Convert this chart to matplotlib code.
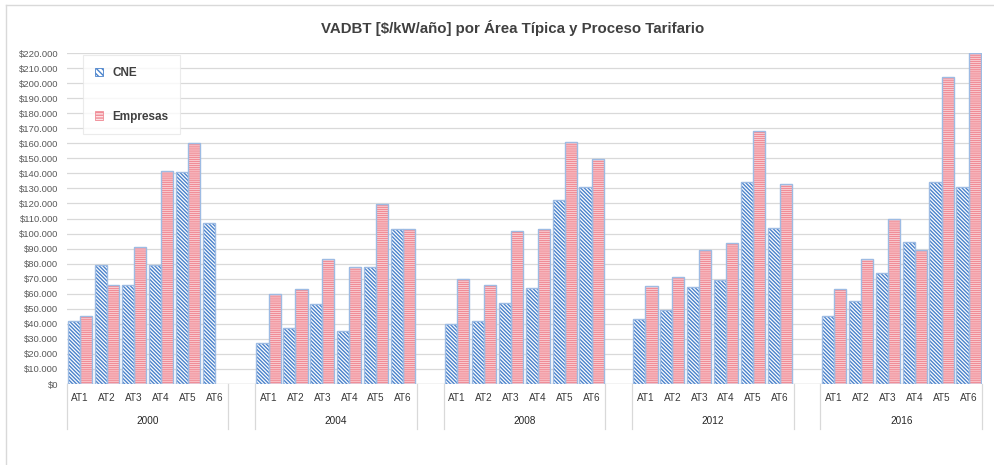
import matplotlib
matplotlib.use("Agg")
import matplotlib.pyplot as plt
import matplotlib.transforms as mtransforms
from matplotlib.patches import Patch
from matplotlib.lines import Line2D
import numpy as np

# ---------------- data ----------------
years = ["2000", "2004", "2008", "2012", "2016"]
areas = ["AT1", "AT2", "AT3", "AT4", "AT5", "AT6"]
cne_2000 = [42, 79, 65.5, 79, 141, 107]
emp_2000 = [45.5, 66, 91, 141.5, 160, 0]
cne_2004 = [27, 37, 53, 35, 78, 103]
emp_2004 = [60, 63, 83, 78, 119.5, 103]
cne_2008 = [40, 42, 54, 64, 122.5, 131]
emp_2008 = [70, 66, 102, 103, 161, 149.5]
cne_2012 = [43, 49, 64.5, 69, 134, 104]
emp_2012 = [65, 71, 89, 94, 168, 133]
cne_2016 = [45, 55, 74, 94.5, 134, 131]
emp_2016 = [63, 83, 110, 89, 204, 220]
yticks = list(range(0, 221, 10))
title = "VADBT [$/kW/año] por Área Típica y Proceso Tarifario"
series_names = ["CNE", "Empresas"]

cne = [cne_2000, cne_2004, cne_2008, cne_2012, cne_2016]
emp = [emp_2000, emp_2004, emp_2008, emp_2012, emp_2016]

# ---------------- style ----------------
plt.rcParams['font.family'] = ['Liberation Sans', 'DejaVu Sans']
plt.rcParams['hatch.linewidth'] = 1.0

W, H = 994, 465
fig = plt.figure(figsize=(W / 100, H / 100), dpi=100)
left_px, right_px, top_px, bot_px = 66.6, 982, 53, 384
ax = fig.add_axes([left_px / W, 1 - bot_px / H, (right_px - left_px) / W, (bot_px - top_px) / H])

blue_hatch = "#4a82cb"
blue_edge = "#9dbbe3"
red_hatch = "#f08d97"
pink_face = "#fde2e5"

slot = 7
w = 0.45
xs_all = []
for gi, yr in enumerate(years):
    x = np.arange(len(areas)) + gi * slot
    xs_all.append(x)
    # CNE
    ax.bar(x - w / 2, cne[gi], width=w, facecolor="white", edgecolor=blue_hatch,
           hatch="\\" * 9, linewidth=0, zorder=2)
    ax.bar(x - w / 2, cne[gi], width=w, fill=False, edgecolor=blue_edge,
           linewidth=1.0, zorder=3)
    # Empresas
    e = np.array(emp[gi], dtype=float)
    ax.bar(x + w / 2, e, width=w, facecolor=pink_face, edgecolor=red_hatch,
           hatch="-" * 8, linewidth=0, zorder=2)
    mask = e > 0
    ax.bar((x + w / 2)[mask], e[mask], width=w, fill=False, edgecolor=blue_edge,
           linewidth=1.0, zorder=3)

ax.set_xlim(-0.5, slot * len(years) - 1.5)
ax.set_ylim(0, 220)
ax.set_yticks(yticks)
ax.set_yticklabels(["$" + (f"{v}.000" if v > 0 else "0") for v in yticks],
                   fontsize=6.8, color="#595959")
ax.tick_params(axis="y", length=0, pad=6)
ax.yaxis.grid(True, color="#d9d9d9", linewidth=0.9, zorder=0)
ax.set_axisbelow(True)
for s in ax.spines.values():
    s.set_visible(False)
ax.axhline(0, color="#d9d9d9", linewidth=1.0, zorder=1)

# category labels
ax.set_xticks([])
trans = mtransforms.blended_transform_factory(ax.transData, ax.transAxes)
h_ax = bot_px - top_px
for gi, yr in enumerate(years):
    for j, a in enumerate(areas):
        ax.text(xs_all[gi][j], -(398 - bot_px) / h_ax, a, transform=trans,
                ha="center", va="center", fontsize=7.2, color="#3a3a3a")
    ax.text(gi * slot + 2.5, -(421 - bot_px) / h_ax, yr, transform=trans,
            ha="center", va="center", fontsize=7.2, color="#262626")
    for xb in (gi * slot - 0.5, gi * slot + 5.5):
        ax.add_line(Line2D([xb, xb], [0, -(429 - bot_px) / h_ax], transform=trans,
                           color="#d9d9d9", linewidth=0.9, clip_on=False))

# legend
handles = [Patch(facecolor="white", edgecolor=blue_hatch, hatch="\\" * 6, linewidth=0.6),
           Patch(facecolor=pink_face, edgecolor=red_hatch, hatch="-" * 6, linewidth=0.6)]
leg = ax.legend(handles, series_names, loc="upper left",
                bbox_to_anchor=((83 - left_px) / (right_px - left_px), (bot_px - 55) / h_ax),
                fontsize=8.5, frameon=True, fancybox=False, edgecolor="#e6e6e6",
                handlelength=0.7, handleheight=0.7, handletextpad=0.8,
                labelspacing=2.7, borderpad=1.0, borderaxespad=0)
leg.get_frame().set_linewidth(0.8)
for t in leg.get_texts():
    t.set_color("#404040")
    t.set_fontweight("bold")

# title
fig.text(513 / W, 1 - 28 / H, title, ha="center", va="center", fontsize=10.8,
         fontweight="bold", color="#404040")

# outer frame (left and top edges)
fig.add_artist(Line2D([6 / W, 6 / W], [0, 1 - 5 / H], transform=fig.transFigure,
                      color="#d9d9d9", linewidth=1.0))
fig.add_artist(Line2D([6 / W, 1], [1 - 5 / H, 1 - 5 / H], transform=fig.transFigure,
                      color="#d9d9d9", linewidth=1.0))

fig.savefig("out.png", dpi=100, facecolor="white")
